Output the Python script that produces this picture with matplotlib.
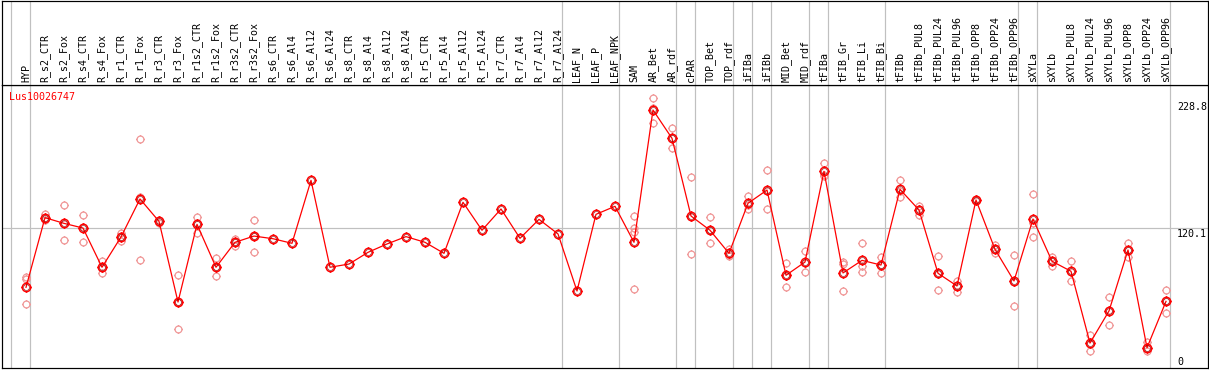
import numpy as np
import matplotlib
matplotlib.use("Agg")
import matplotlib.pyplot as plt
from matplotlib.path import Path
from matplotlib.transforms import blended_transform_factory

# ---------------------------
# data
# ---------------------------
gene = "Lus10026747"

samples = [
    "HYP", "R_s2_CTR", "R_s2_Fox", "R_s4_CTR", "R_s4_Fox", "R_r1_CTR", "R_r1_Fox",
    "R_r3_CTR", "R_r3_Fox", "R_r1s2_CTR", "R_r1s2_Fox", "R_r3s2_CTR", "R_r3s2_Fox",
    "R_s6_CTR", "R_s6_Al4", "R_s6_Al12", "R_s6_Al24", "R_s8_CTR", "R_s8_Al4",
    "R_s8_Al12", "R_s8_Al24", "R_r5_CTR", "R_r5_Al4", "R_r5_Al12", "R_r5_Al24",
    "R_r7_CTR", "R_r7_Al4", "R_r7_Al12", "R_r7_Al24", "LEAF_N", "LEAF_P", "LEAF_NPK",
    "SAM", "AR_Bet", "AR_rdf", "cPAR", "TOP_Bet", "TOP_rdf", "iFIBa", "iFIBb",
    "MID_Bet", "MID_rdf", "tFIBa", "tFIB_Gr", "tFIB_Li", "tFIB_Bi", "tFIBb",
    "tFIBb_PUL8", "tFIBb_PUL24", "tFIBb_PUL96", "tFIBb_OPP8", "tFIBb_OPP24",
    "tFIBb_OPP96", "sXYLa", "sXYLb", "sXYLb_PUL8", "sXYLb_PUL24", "sXYLb_PUL96",
    "sXYLb_OPP8", "sXYLb_OPP24", "sXYLb_OPP96",
]

# samples per tissue group (separated by grey lines)
group_sizes = [1, 28, 3, 3, 1, 2, 1, 1, 2, 1, 3, 7, 1, 7]

means = [
    67.0, 129.5, 124.4, 120.2, 85.0, 112.2, 146.3, 126.2, 53.8, 123.5,
    85.0, 107.4, 113.0, 110.6, 106.5, 163.0, 85.0, 87.9, 98.4, 105.9,
    112.5, 107.4, 97.5, 143.3, 118.2, 137.3, 111.0, 128.0, 114.9, 63.7,
    132.5, 139.7, 107.4, 226.1, 200.7, 131.0, 118.2, 97.5, 142.4, 154.3,
    77.8, 89.7, 171.1, 79.9, 91.2, 87.0, 154.9, 136.4, 79.6, 68.2,
    145.4, 101.1, 72.7, 128.3, 90.4, 81.4, 17.0, 45.8, 100.5, 12.8,
    54.4,
]

replicates = [
    [76.5, 74.5, 51.8], [132.8, 127.4, 129.5], [140.6, 109.2, 123.4],
    [131.6, 108.0, 121.0], [90.9, 80.1, 84.0], [115.5, 108.6, 112.5],
    [199.8, 91.2, 147.9], [127.5, 125.0, 126.0], [77.8, 29.6, 54.0],
    [130.1, 116.0, 124.4], [93.0, 76.9, 85.0], [110.1, 104.1, 108.0],
    [127.1, 98.4, 113.5],
    [], [], [], [], [], [], [], [], [], [], [], [], [], [], [], [], [], [], [],
    [131.0, 120.0, 117.0, 65.2], [236.6, 214.2, 227.5], [209.7, 191.7, 200.7],
    [165.7, 96.9, 130.4], [130.1, 106.5, 118.0], [101.1, 95.1, 96.3],
    [148.9, 137.0, 141.3], [172.3, 137.0, 153.6], [88.6, 67.3, 77.5],
    [99.3, 80.8, 89.0], [178.3, 166.9, 168.0], [89.5, 88.2, 63.7],
    [106.5, 86.4, 81.0], [94.5, 79.6, 87.0], [163.3, 147.8, 153.6],
    [140.0, 131.9, 137.3], [95.1, 64.6, 79.0], [72.7, 62.8, 69.0],
    [146.5, 145.0, 144.8], [105.0, 97.5, 101.0], [95.7, 50.2, 72.0],
    [150.5, 124.4, 111.9], [94.5, 86.4, 90.4], [90.4, 72.7, 81.0],
    [24.5, 10.1, 16.5], [58.0, 32.9, 46.5], [106.5, 94.5, 100.5],
    [17.6, 9.5, 12.8], [64.6, 44.3, 54.4],
]

y_labels = [0, 120.1, 228.8]

# ---------------------------
# layout (pixels)
# ---------------------------
W, H = 1209, 370
LEFT, RIGHT = 2, 1208
HEAD, BOTTOM = 85, 368
X0, DX = 26, 19          # pixel x of first sample, spacing
Y0, SY = 362, 1.1145     # pixel y of value 0, pixels per unit
LABEL_X = 1177           # left edge of the value labels
FONT = "DejaVu Sans Mono"
FS = 7.2
RED = "#ff0000"
PINK = "#f09898"
GRID = "#c0c0c0"
PX = 0.72  # one pixel in points


def tick_circle(spoke):
    # circle with four little spokes, like the original markers
    parts = [Path.unit_circle()]
    for dx, dy in [(0, 1), (0, -1), (1, 0), (-1, 0)]:
        parts.append(Path([(dx, dy), (dx * spoke, dy * spoke)], [Path.MOVETO, Path.LINETO]))
    return Path.make_compound_path(*parts)


fig = plt.figure(figsize=(W / 100, H / 100), dpi=100)
fig.patch.set_facecolor("white")

ax = fig.add_axes([LEFT / W, (H - BOTTOM) / H, (RIGHT - LEFT) / W, (BOTTOM - HEAD) / H])
hax = fig.add_axes([LEFT / W, (H - HEAD) / H, (RIGHT - LEFT) / W, (HEAD - 0.5) / H], sharex=ax)

ax.set_xlim((LEFT - X0) / DX, (RIGHT - X0) / DX)
ax.set_ylim(-(BOTTOM - Y0) / SY, (Y0 - HEAD) / SY)
hax.set_ylim(HEAD, 0)

for a in (ax, hax):
    a.set_xticks([])
    a.set_yticks([])
    for s in a.spines.values():
        s.set_color("black")
        s.set_linewidth(1.2 * PX)

x = np.arange(len(samples))

# group separators
bounds = np.concatenate([[0], np.cumsum(group_sizes)]) - 15 / DX
for b in bounds:
    ax.axvline(b, color=GRID, lw=PX * 1.2, zorder=0)
    hax.axvline(b, color=GRID, lw=PX * 1.2, zorder=0)

ax.axhline(y_labels[1], color=GRID, lw=PX * 1.2, zorder=0)

# replicate points
rep_mk = tick_circle(1.3)
for xi, reps in zip(x, replicates):
    if reps:
        ax.plot([xi] * len(reps), reps, ls="none", marker=rep_mk, ms=6.4, mfc="none",
                mec=PINK, mew=0.9, zorder=2)

# mean line
mean_mk = tick_circle(1.2)
ax.plot(x, means, color=RED, lw=0.9, zorder=3)
ax.plot(x, means, ls="none", marker=mean_mk, ms=7.2, mfc="none", mec=RED, mew=1.1, zorder=4)
ax.plot(x, means, ls="none", marker="o", ms=4.2, mfc="none", mec="#8a0000", mew=0.4, zorder=5)

# sample labels in header
for xi, name in zip(x, samples):
    hax.text(xi, HEAD - 3, name, rotation=90, ha="center", va="bottom",
             fontsize=FS, family=FONT, color="black")

# gene name
fig.text(9 / W, 1 - 97.5 / H, gene, ha="left", va="center", fontsize=FS,
         family=FONT, color=RED)

# value labels on the right
tr = blended_transform_factory(ax.transAxes, ax.transData)
lx = (LABEL_X - LEFT) / (RIGHT - LEFT)
for v in y_labels:
    va = "top" if v == y_labels[1] else "center"
    yy = v - 0.5 if v == y_labels[1] else v
    ax.text(lx, yy, str(v), transform=tr, ha="left", va=va,
            fontsize=FS, family=FONT, color="black", zorder=6)

fig.savefig("out.png", dpi=100)
